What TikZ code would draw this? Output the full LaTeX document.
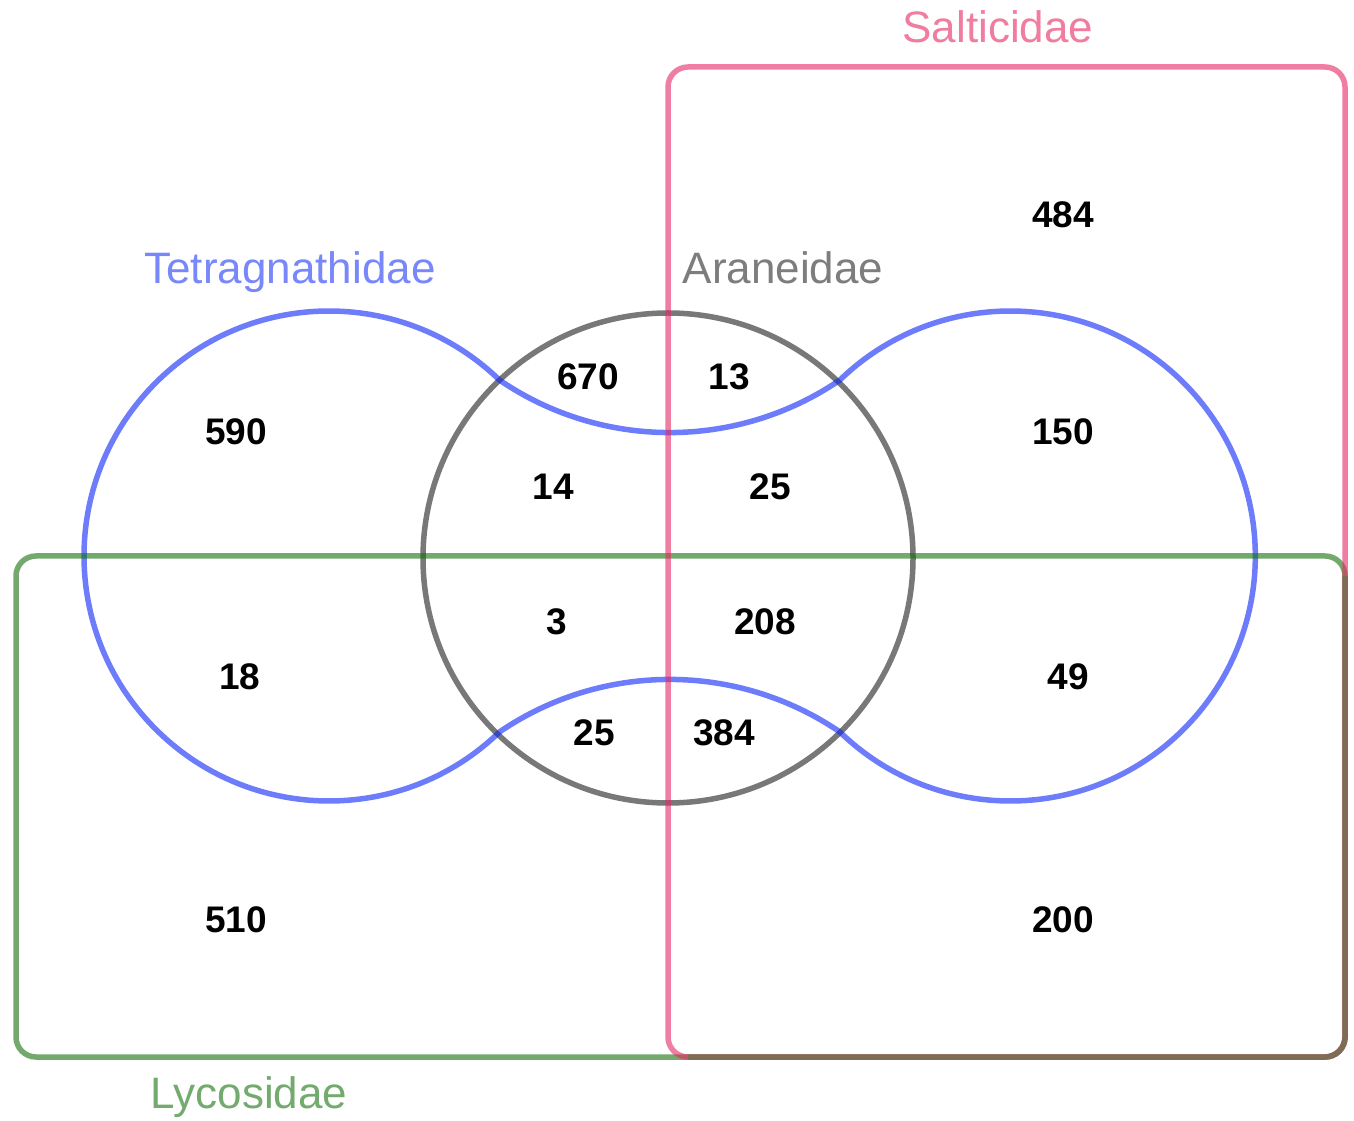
\documentclass[tikz,border=0pt]{standalone}
\usepackage{fontspec}
\setmainfont{Liberation Sans}
\usetikzlibrary{calc}
\definecolor{pinkbase}{RGB}{230,40,100}
\definecolor{greenbase}{RGB}{22,113,13}
\definecolor{bluebase}{RGB}{13,38,247}
\definecolor{graybase}{RGB}{30,30,30}
\definecolor{overlapbrown}{RGB}{128,108,84}
\definecolor{pinktext}{RGB}{240,125,160}
\definecolor{bluetext}{RGB}{120,135,250}
\definecolor{graytext}{RGB}{125,125,125}
\definecolor{greentext}{RGB}{115,170,110}
\tikzset{
  setline/.style={line width=5.5pt, draw opacity=0.6},
  setlabel/.style={anchor=base, inner sep=0pt, font=\fontsize{44}{50}\selectfont},
  count/.style={anchor=center, inner sep=0pt, font=\fontsize{37}{44}\selectfont\bfseries, text=black}
}
\begin{document}
\begin{tikzpicture}[x=1pt,y=1pt]
\useasboundingbox (0,0) rectangle (1354,1120);
\fill[white] (0,0) rectangle (1354,1120);
% centres
\coordinate (L) at (329,564);
\coordinate (R) at (1007,564);
\coordinate (A) at (668,562);
% Araneidae circle
\draw[setline, draw=graybase] (A) circle[radius=245];
% Tetragnathidae outline
\draw[setline, draw=bluebase] ($(L)+(45.9:245)$)
  arc[start angle=45.9, end angle=314.1, radius=245]
  arc[start angle=124.3, end angle=55.7, radius=302]
  arc[start angle=225.9, end angle=494.1, radius=245]
  arc[start angle=304.3, end angle=235.7, radius=302] -- cycle;
% Lycosidae rectangle
\draw[setline, draw=greenbase, rounded corners=20pt] (16,63) rectangle (1345,564);
% Salticidae rectangle
\draw[setline, draw=pinkbase, rounded corners=20pt] (668,63) rectangle (1345,1053);
% shared edges
\draw[line width=5.5pt, draw=overlapbrown] (688,63) -- (1325,63) arc[start angle=-90, end angle=0, radius=20] -- (1345,544);
% set labels
\node[setlabel, text=pinktext] (salt) at (998,1077) {Salticidae};
\node[setlabel, text=bluetext] (tetra) at (290,836) {Tetragnathidae};
\node[setlabel, text=graytext] (aran) at (783,836) {Araneidae};
\node[setlabel, text=greentext] (lyco) at (249,12) {Lycosidae};
% counts
\node[count] (n484) at (1063,905) {484};
\node[count] (n590) at (236,688) {590};
\node[count] (n670) at (588,743) {670};
\node[count] (n13) at (729,743) {13};
\node[count] (n150) at (1063,688) {150};
\node[count] (n14) at (553,633) {14};
\node[count] (n25a) at (770,633) {25};
\node[count] (n3) at (557,498) {3};
\node[count] (n208) at (765,498) {208};
\node[count] (n18) at (240,443) {18};
\node[count] (n49) at (1068,443) {49};
\node[count] (n25b) at (594,387) {25};
\node[count] (n384) at (724,387) {384};
\node[count] (n510) at (236,200) {510};
\node[count] (n200) at (1063,200) {200};
\end{tikzpicture}
\end{document}
